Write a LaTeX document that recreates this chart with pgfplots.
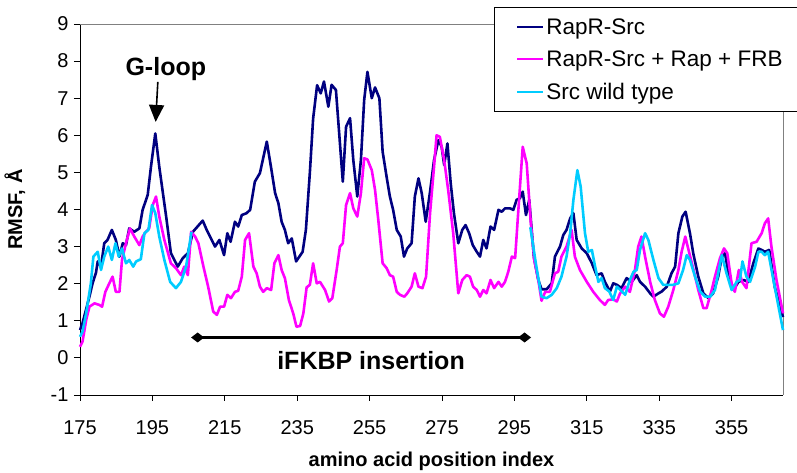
\documentclass[border=0pt]{standalone}
\usepackage{fontspec}
\setmainfont{Liberation Sans}
\usepackage{pgfplots}
\pgfplotsset{compat=1.18}
\usetikzlibrary{arrows.meta}
\definecolor{cnavy}{RGB}{0,0,128}
\definecolor{cmag}{RGB}{255,0,255}
\definecolor{ccyan}{RGB}{0,204,255}
\begin{document}
\begin{tikzpicture}
\useasboundingbox (-80pt,-78pt) rectangle (717pt,395pt);
\begin{axis}[
  at={(0pt,0pt)}, anchor=south west,
  scale only axis, width=703pt, height=371pt,
  xmin=175, xmax=369.2, ymin=-1, ymax=9,
  xtick={175,195,...,355}, ytick={-1,0,...,9},
  axis x line*=bottom, axis y line*=left,
  axis line style={black, line width=0.8pt},
  tick align=outside, major tick length=6pt,
  tick style={black, line width=0.8pt},
  /pgf/number format/assume math mode=true,
  ticklabel style={font=\fontsize{20}{24}\selectfont},
  xticklabel style={yshift=-16pt},
  yticklabel style={xshift=-2pt},
  xlabel={\textbf{amino acid position index}},
  ylabel={\textbf{RMSF, Å}},
  every axis x label/.style={at={(axis description cs:0.5,-0.178)}, anchor=center, font=\fontsize{20}{24}\selectfont},
  every axis y label/.style={at={(axis description cs:-0.0925,0.5)}, anchor=center, rotate=90, font=\fontsize{20}{24}\selectfont},
  unbounded coords=jump,
  clip=false,
  legend style={at={(axis description cs:0.589,1.046)}, anchor=north west,
    draw=black, line width=0.8pt, fill=white,
    font=\fontsize{22.5}{27}\selectfont,
    inner xsep=22pt, inner ysep=9pt, row sep=11pt,
    nodes={inner sep=2pt}},
  legend cell align=left,
  legend image code/.code={\draw[#1, line width=1.8pt] (0pt,0pt) -- (26pt,0pt);},
  every axis plot/.append style={line width=2.6pt, line join=round},
]
\draw[gray, line width=0.8pt] (rel axis cs:0,1) -- (rel axis cs:1,1) -- (rel axis cs:1,0);
\addplot[cnavy] coordinates {
(175,0.75)(175.7,0.94)(177.6,1.65)(178.5,2.02)(179.4,2.29)(179.9,2.6)(180.8,2.46)(181.7,3.09)(182.6,3.18)(183.8,3.45)
(184.9,3.18)(185.9,2.73)(186.8,3.09)(187.7,3.04)(188.6,3.49)(190,3.4)(191.4,3.49)(192.3,3.99)(193.7,4.39)(194.6,5.15)
(195.8,6.05)(196.9,5.15)(198.8,3.81)(200.1,2.83)(202,2.46)(203.4,2.69)(204.8,2.82)(206.2,3.4)(208.9,3.7)(210,3.45)
(212.3,3.0)(213.5,3.18)(214.8,2.77)(215.7,3.36)(216.6,3.13)(217.8,3.67)(218.7,3.54)(219.7,3.85)(221,3.9)(222,3.99)
(223.3,4.75)(224.7,4.98)(226.6,5.83)(227.9,5.06)(228.9,4.44)(229.8,4.17)(230.7,3.67)(231.6,3.45)(232.5,3.09)(233.5,3.22)
(234.7,2.6)(236.5,2.86)(237.4,3.45)(238.5,5.0)(239.4,6.45)(240.5,7.35)(241.5,7.13)(242.4,7.45)(243.6,6.77)(244.5,7.36)
(245.7,7.22)(246.6,6.05)(247.6,4.75)(248.5,6.23)(249.6,6.46)(250.5,5.33)(251.6,4.35)(252.6,5.33)(253.5,6.95)(254.4,7.71)
(255.6,7.0)(256.5,7.29)(257.7,7.0)(258.6,5.56)(259.7,4.88)(260.6,4.35)(261.5,3.99)(262.5,3.45)(263.6,3.27)(264.5,2.73)
(265.4,2.95)(266.6,3.09)(267.5,4.35)(268.5,4.84)(269.4,4.44)(270.5,3.67)(271.7,4.48)(272.8,5.33)(274,5.87)(274.9,5.69)
(275.6,5.2)(276.5,5.78)(277.4,4.71)(278.3,3.9)(279.5,3.09)(280.6,3.45)(281.5,3.58)(282.5,3.36)(283.5,3.04)(284.6,2.86)
(285.5,2.73)(286.4,3.18)(287.3,2.95)(288.4,3.54)(289.4,3.45)(290.6,3.99)(291.5,3.94)(292.4,4.03)(293.8,4.03)(294.7,3.99)
(295.6,4.26)(296.5,4.3)(297.3,4.48)(298.2,3.85)(299.1,4.26)(300.4,2.7)(301.6,2.1)(302.5,1.85)(303.9,1.85)(305.3,2.01)
(306.2,2.73)(307.6,3.0)(308.5,3.31)(309.4,3.45)(310.4,3.76)(311.3,3.9)(312.2,3.18)(313.6,2.95)(315,2.82)(316.4,2.55)
(317.7,2.23)(319.1,2.28)(320,2.05)(321.4,1.79)(322.3,2.01)(323.3,1.97)(324.6,1.88)(326,2.15)(327.4,2.05)(328.8,2.23)
(329.7,2.05)(331.1,1.92)(332.5,1.74)(333.4,1.65)(334.8,1.74)(335.7,1.79)(337.1,1.92)(338.4,2.28)(339.4,2.46)(340.3,3.36)
(341.4,3.81)(342.3,3.94)(343.5,3.36)(344.4,2.82)(345.8,2.19)(347.2,1.74)(348.6,1.61)(349.9,1.74)(351.3,2.19)(352.3,2.73)
(353.2,2.82)(354.1,2.28)(355.5,1.83)(356.9,2.05)(358.3,2.1)(359.6,2.05)(361,2.55)(362.4,2.95)(363.3,2.91)(364.2,2.86)
(365.4,2.91)(366.9,1.92)(369.2,1.1)
};
\addlegendentry{RapR-Src}
\addplot[cmag] coordinates {
(175,0.3)(175.7,0.44)(176.7,1.02)(177.6,1.38)(179,1.47)(180.3,1.43)(181.1,1.38)(182,1.78)(183.1,2.01)(184,2.19)
(184.9,1.78)(185.9,1.78)(186.6,2.64)(187.7,3.09)(188.8,3.49)(190,3.27)(191.4,3.04)(192.3,3.27)(193.2,3.4)(194.1,3.49)
(195.1,4.12)(196,4.35)(196.9,3.81)(198.3,3.18)(200.1,2.55)(201.5,2.42)(202.9,2.23)(203.8,2.46)(204.8,2.23)(205.7,3.4)
(206.8,3.27)(207.7,3.09)(209.1,2.46)(210.4,1.92)(211.8,1.25)(212.8,1.16)(213.7,1.38)(214.8,1.38)(215.7,1.7)(216.7,1.61)
(217.8,1.78)(218.7,1.81)(219.7,2.19)(220.6,3.18)(221.7,3.36)(222.9,2.46)(223.8,2.28)(224.7,1.92)(225.6,1.78)(226.6,1.88)
(227.8,1.83)(228.7,2.55)(229.8,2.77)(230.7,2.37)(231.6,2.15)(232.7,1.56)(233.9,1.2)(234.8,0.84)(235.8,0.86)(236.7,1.2)
(237.6,1.9)(238.5,1.97)(239.4,2.55)(240.4,2.01)(241.3,2.05)(242.7,1.83)(243.8,1.52)(244.7,1.61)(245.9,2.37)(246.8,3.0)
(247.6,3.09)(248.5,4.12)(249.6,4.44)(250.5,4.03)(251.6,3.81)(252.6,4.44)(253.5,5.38)(254.4,5.35)(255.6,5.06)(256.5,4.53)
(257.4,3.72)(258.6,2.55)(259.7,2.42)(260.6,2.23)(261.5,2.19)(262.5,1.78)(263.4,1.7)(264.6,1.65)(265.4,1.74)(266.6,1.92)
(267.5,2.28)(268.5,1.92)(269.6,1.88)(270.6,2.19)(271.7,3.9)(272.8,5.15)(273.5,6.0)(274.4,5.96)(275.6,5.33)(276.7,4.53)
(278.1,3.36)(279.5,1.74)(280.6,2.1)(281.8,2.23)(282.7,2.19)(283.6,1.92)(284.6,1.83)(285.5,1.65)(286.4,1.83)(287.3,1.74)
(288.4,2.1)(289.4,1.88)(290.6,2.05)(291.5,1.92)(292.4,2.05)(293.3,2.32)(294.3,2.73)(295.2,2.69)(296.1,3.99)(297.3,5.69)
(298.4,5.24)(299.5,3.68)(300.5,2.64)(301.6,2.1)(302.5,1.54)(303.5,1.78)(304.8,1.78)(306.2,2.28)(307.1,2.32)(308,2.73)
(309.4,3.0)(310.8,3.45)(311.7,2.73)(313.1,2.37)(315,2.05)(316.8,1.78)(318.6,1.56)(320,1.43)(320.9,1.56)(322.3,1.58)
(323.3,1.52)(324.2,1.74)(325.6,1.92)(326.9,1.78)(328.3,2.37)(329.2,3.0)(330.1,3.27)(331.1,2.73)(332.5,2.05)(333.8,1.56)
(335.2,1.2)(336.3,1.11)(337.5,1.38)(338.9,1.83)(340.3,2.37)(341.2,2.86)(342.2,3.27)(343.1,2.91)(344.5,2.37)(345.8,1.83)
(347.2,1.34)(348.1,1.34)(349.5,1.83)(350.4,2.19)(351.8,2.69)(352.9,2.95)(353.8,2.82)(355,2.01)(355.9,1.78)(357,2.37)
(357.9,2.05)(359.1,1.88)(360.5,3.09)(361.9,3.13)(363.3,3.36)(364.2,3.63)(365.1,3.76)(366,3.0)(367.4,2.1)(369.2,1.2)
};
\addlegendentry{RapR-Src + Rap + FRB}
\addplot[ccyan] coordinates {
(175,0.57)(175.7,0.71)(176.7,1.2)(178,2.01)(178.7,2.73)(179.9,2.86)(180.8,2.37)(181.7,2.73)(182.8,3.0)(183.8,2.64)
(184.8,3.09)(185.7,2.73)(186.6,2.95)(187.7,2.55)(188.6,2.64)(189.7,2.46)(190.5,2.6)(191.8,2.66)(192.8,3.36)(193.9,3.45)
(194.9,4.12)(195.8,3.9)(196.9,3.27)(198.3,2.64)(199.9,2.05)(201.5,1.88)(202.9,2.05)(204.3,2.46)(205.8,3.4)
(250,nan)
(299.4,3.52)(301,2.5)(302.5,1.65)(303.9,1.61)(305.3,1.7)(306.7,1.88)(308,2.19)(309.4,2.73)(310.4,3.36)(311.3,4.26)
(312.4,5.06)(313.3,4.62)(314.5,3.36)(315.4,2.86)(316.4,2.91)(317.3,2.46)(318.2,2.05)(319.1,2.15)(320,1.88)(321.2,1.79)
(322.3,1.56)(323.3,1.92)(324.3,1.83)(325.6,1.7)(326.9,2.1)(327.9,2.32)(328.8,2.37)(329.7,2.91)(331.1,3.36)(332,3.18)
(333.4,2.64)(334.8,2.15)(336.1,1.97)(337.5,1.97)(338.9,1.97)(340.3,2.01)(341.6,2.37)(342.6,2.77)(343.5,2.64)(344.9,2.19)
(346.3,1.79)(347.7,1.65)(349.1,1.65)(350.4,1.83)(351.3,2.28)(352.3,2.77)(353.6,2.28)(355,1.83)(356.4,2.05)(357.3,2.1)
(358,2.6)(359.1,2.19)(360.1,2.05)(361.5,2.46)(362.4,2.86)(363.3,2.86)(364.2,2.77)(365.1,2.86)(366.9,1.92)(369.2,0.75)
};
\addlegendentry{Src wild type}
\node[font=\fontsize{25}{30}\selectfont\bfseries] at (axis cs:198.7,7.79) {G-loop};
\draw[line width=1.6pt, -{Triangle[width=15pt,length=17pt]}] (axis cs:196.5,7.44) -- (axis cs:195.9,6.36);
\draw[line width=2.6pt, {Diamond[width=10pt,length=13pt]}-{Diamond[width=10pt,length=13pt]}] (axis cs:205.7,0.55) -- (axis cs:299.6,0.55);
\node[font=\fontsize{25}{30}\selectfont\bfseries] at (axis cs:255.4,-0.06) {iFKBP insertion};
\end{axis}
\end{tikzpicture}
\end{document}
